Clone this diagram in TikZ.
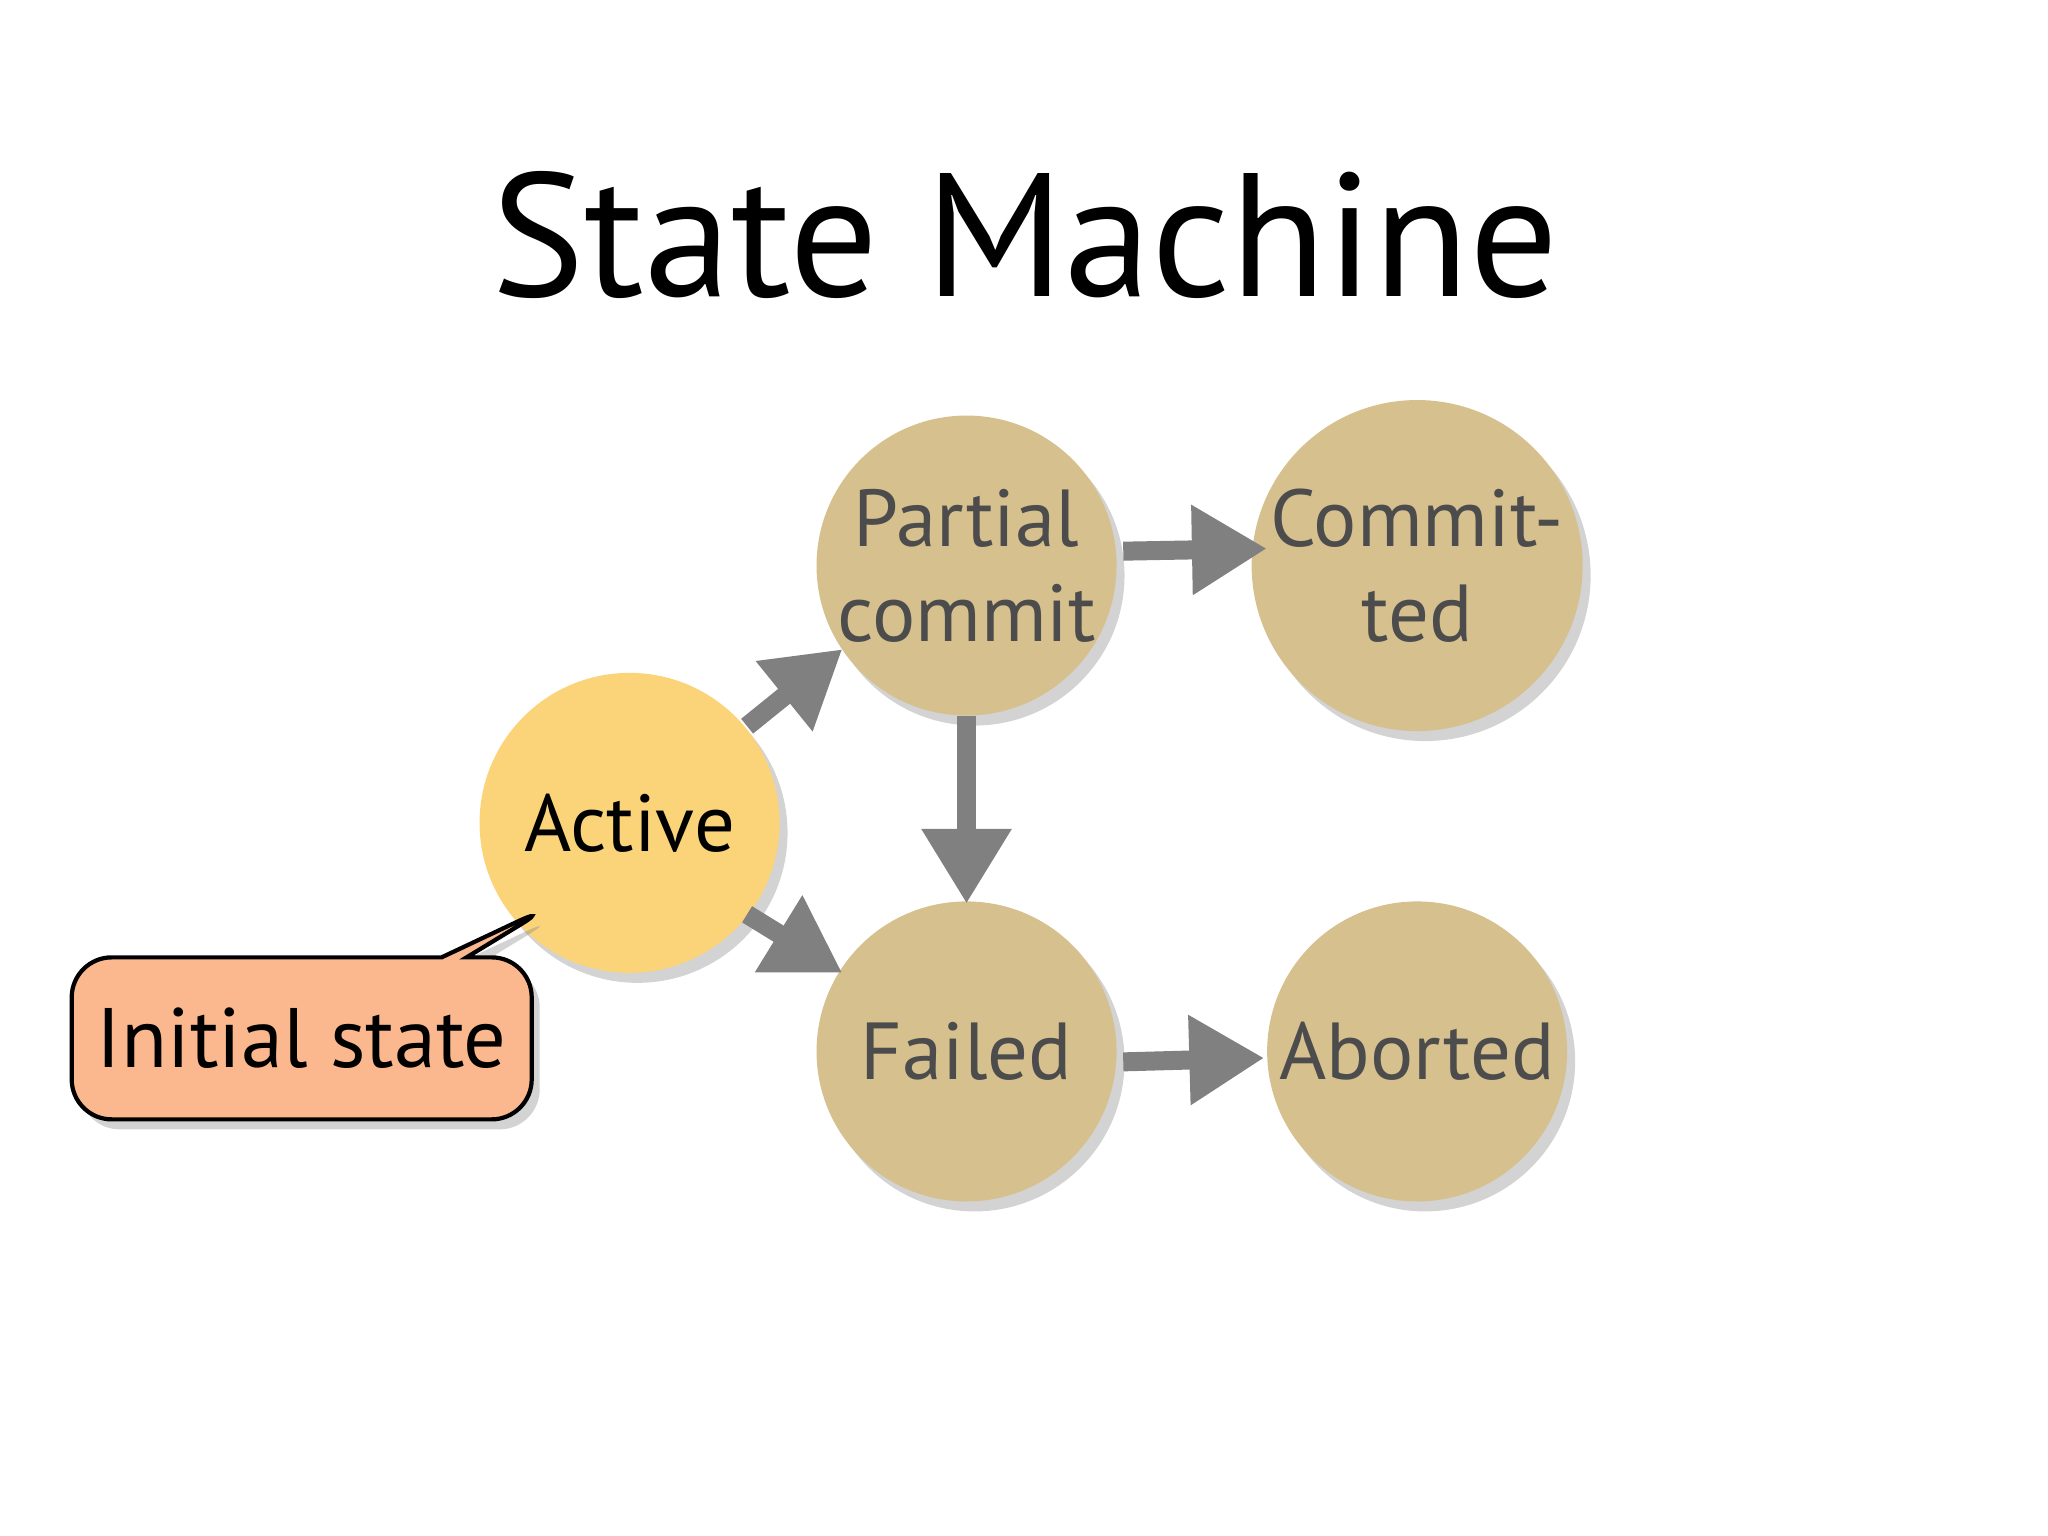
\documentclass[tikz,border=0pt]{standalone}
\usepackage{fontspec}
\setmainfont{PT Sans}
\usetikzlibrary{arrows.meta,shadows,shapes.callouts}
\definecolor{tan}{HTML}{D6C08E}
\definecolor{act}{HTML}{FBD47A}
\definecolor{sal}{HTML}{FBB88E}
\definecolor{arr}{HTML}{808080}
\begin{document}
\begin{tikzpicture}[x=0.01306cm,y=-0.01306cm,
  st/.style={circle,minimum size=3.0cm,inner sep=0pt,fill=tan,text=black!70,align=center,
    font=\fontsize{23}{27}\selectfont,drop shadow={shadow xshift=0.08cm,shadow yshift=-0.1cm,opacity=0.35}},
  ar/.style={draw=arr,line width=0.19cm,-{Triangle[length=0.75cm,width=0.85cm]}}]
\useasboundingbox (0,0) rectangle (1568,1176);
\node[font=\fontsize{50}{60}\selectfont] (t) at (785,180) {State Machine};
\node[st,fill=act,text=black] (a) at (482,630) {Active};
\node[st] (p) at (740,433) {Partial\\commit};
\node[st] (c) at (1085,433) {Commit-\\ted};
\node[st] (f) at (740,805) {Failed};
\node[st] (b) at (1085,805) {Aborted};
\coordinate (a1) at (572,556); \coordinate (p1) at (645,497);
\coordinate (a2) at (572,700); \coordinate (f2) at (645,745);
\draw[ar] (a1) -- (p1);
\draw[ar] (a2) -- (f2);
\draw[ar] (p) ++(0,115) -- (740,692);
\draw[ar] (860,422) -- (970,420);
\draw[ar] (860,813) -- (968,810);
\coordinate (tip) at (423,693);
\node[draw=black,line width=1.2pt,fill=sal,rectangle callout,rounded corners=0.4cm,
  minimum width=4.6cm,minimum height=1.62cm,callout absolute pointer=(tip),
  font=\fontsize{24}{28}\selectfont,
  drop shadow={shadow xshift=0.08cm,shadow yshift=-0.1cm,opacity=0.35}] (i) at (231,795) {Initial state};
\end{tikzpicture}
\end{document}
